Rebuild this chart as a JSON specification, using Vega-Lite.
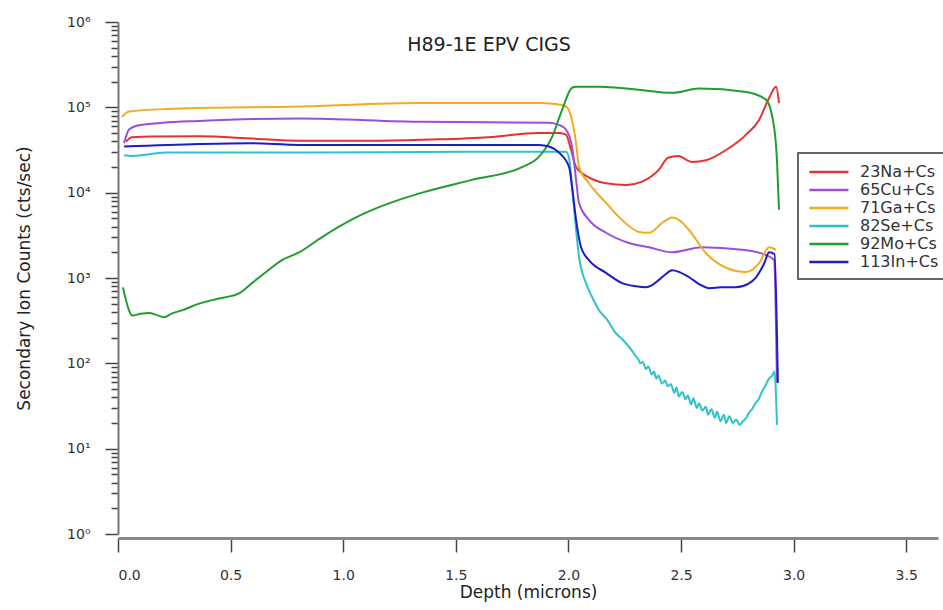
{
  "$schema": "https://vega.github.io/schema/vega-lite/v6.json",
  "autosize": "none",
  "width": 820,
  "height": 512,
  "padding": {"left": 118, "top": 22, "right": 5, "bottom": 76},
  "background": "white",
  "title": {
    "text": "H89-1E EPV CIGS",
    "anchor": "middle",
    "dx": -39,
    "offset": -55,
    "baseline": "alphabetic",
    "font": "DejaVu Sans",
    "fontSize": 19,
    "fontWeight": "normal",
    "color": "#222"
  },
  "config": {
    "view": {"stroke": null},
    "axis": {
      "labelFont": "DejaVu Sans",
      "titleFont": "DejaVu Sans",
      "labelColor": "#333",
      "titleColor": "#222",
      "grid": false
    }
  },
  "datasets": {
    "profiles": [
      {"s": "23Na+Cs", "x": 0.036, "y": 39800}, {"s": "23Na+Cs", "x": 0.062, "y": 44700}, {"s": "23Na+Cs", "x": 0.15, "y": 45500}, {"s": "23Na+Cs", "x": 0.36, "y": 45700}, {"s": "23Na+Cs", "x": 0.6, "y": 43000}, {"s": "23Na+Cs", "x": 0.804, "y": 40700}, {"s": "23Na+Cs", "x": 1.159, "y": 40700}, {"s": "23Na+Cs", "x": 1.4, "y": 42000}, {"s": "23Na+Cs", "x": 1.647, "y": 44700}, {"s": "23Na+Cs", "x": 1.869, "y": 50100}, {"s": "23Na+Cs", "x": 1.96, "y": 50100}, {"s": "23Na+Cs", "x": 1.989, "y": 47900}, {"s": "23Na+Cs", "x": 2.012, "y": 31600}, {"s": "23Na+Cs", "x": 2.034, "y": 20000}, {"s": "23Na+Cs", "x": 2.091, "y": 15100}, {"s": "23Na+Cs", "x": 2.167, "y": 12900}, {"s": "23Na+Cs", "x": 2.256, "y": 12300}, {"s": "23Na+Cs", "x": 2.327, "y": 13500}, {"s": "23Na+Cs", "x": 2.402, "y": 18600}, {"s": "23Na+Cs", "x": 2.442, "y": 25700}, {"s": "23Na+Cs", "x": 2.487, "y": 26900}, {"s": "23Na+Cs", "x": 2.549, "y": 22900}, {"s": "23Na+Cs", "x": 2.611, "y": 24000}, {"s": "23Na+Cs", "x": 2.7, "y": 31600}, {"s": "23Na+Cs", "x": 2.789, "y": 47900}, {"s": "23Na+Cs", "x": 2.846, "y": 70800}, {"s": "23Na+Cs", "x": 2.891, "y": 128800}, {"s": "23Na+Cs", "x": 2.922, "y": 173800}, {"s": "23Na+Cs", "x": 2.935, "y": 112200},

      {"s": "65Cu+Cs", "x": 0.027, "y": 38000}, {"s": "65Cu+Cs", "x": 0.049, "y": 55000}, {"s": "65Cu+Cs", "x": 0.093, "y": 61700}, {"s": "65Cu+Cs", "x": 0.2, "y": 66000}, {"s": "65Cu+Cs", "x": 0.36, "y": 69200}, {"s": "65Cu+Cs", "x": 0.804, "y": 74100}, {"s": "65Cu+Cs", "x": 1.35, "y": 67600}, {"s": "65Cu+Cs", "x": 1.914, "y": 66100}, {"s": "65Cu+Cs", "x": 1.96, "y": 62000}, {"s": "65Cu+Cs", "x": 1.989, "y": 55000}, {"s": "65Cu+Cs", "x": 2.016, "y": 34700}, {"s": "65Cu+Cs", "x": 2.034, "y": 14100}, {"s": "65Cu+Cs", "x": 2.047, "y": 7590}, {"s": "65Cu+Cs", "x": 2.091, "y": 4790}, {"s": "65Cu+Cs", "x": 2.167, "y": 3390}, {"s": "65Cu+Cs", "x": 2.269, "y": 2570}, {"s": "65Cu+Cs", "x": 2.358, "y": 2290}, {"s": "65Cu+Cs", "x": 2.46, "y": 2000}, {"s": "65Cu+Cs", "x": 2.593, "y": 2290}, {"s": "65Cu+Cs", "x": 2.771, "y": 2140}, {"s": "65Cu+Cs", "x": 2.877, "y": 1860}, {"s": "65Cu+Cs", "x": 2.913, "y": 1620}, {"s": "65Cu+Cs", "x": 2.926, "y": 59},

      {"s": "71Ga+Cs", "x": 0.018, "y": 77600}, {"s": "71Ga+Cs", "x": 0.049, "y": 89100}, {"s": "71Ga+Cs", "x": 0.213, "y": 95500}, {"s": "71Ga+Cs", "x": 0.804, "y": 102300}, {"s": "71Ga+Cs", "x": 1.35, "y": 112200}, {"s": "71Ga+Cs", "x": 1.869, "y": 112200}, {"s": "71Ga+Cs", "x": 1.93, "y": 110000}, {"s": "71Ga+Cs", "x": 1.989, "y": 102300}, {"s": "71Ga+Cs", "x": 2.016, "y": 70800}, {"s": "71Ga+Cs", "x": 2.034, "y": 38000}, {"s": "71Ga+Cs", "x": 2.047, "y": 20000}, {"s": "71Ga+Cs", "x": 2.091, "y": 12900}, {"s": "71Ga+Cs", "x": 2.167, "y": 7590}, {"s": "71Ga+Cs", "x": 2.238, "y": 4790}, {"s": "71Ga+Cs", "x": 2.313, "y": 3470}, {"s": "71Ga+Cs", "x": 2.358, "y": 3390}, {"s": "71Ga+Cs", "x": 2.42, "y": 4500}, {"s": "71Ga+Cs", "x": 2.46, "y": 5130}, {"s": "71Ga+Cs", "x": 2.5, "y": 4600}, {"s": "71Ga+Cs", "x": 2.536, "y": 3630}, {"s": "71Ga+Cs", "x": 2.611, "y": 1950}, {"s": "71Ga+Cs", "x": 2.7, "y": 1320}, {"s": "71Ga+Cs", "x": 2.789, "y": 1175}, {"s": "71Ga+Cs", "x": 2.846, "y": 1480}, {"s": "71Ga+Cs", "x": 2.891, "y": 2290}, {"s": "71Ga+Cs", "x": 2.922, "y": 2140},

      {"s": "82Se+Cs", "x": 0.027, "y": 27500}, {"s": "82Se+Cs", "x": 0.062, "y": 26900}, {"s": "82Se+Cs", "x": 0.213, "y": 29500}, {"s": "82Se+Cs", "x": 0.804, "y": 29500}, {"s": "82Se+Cs", "x": 1.572, "y": 30200}, {"s": "82Se+Cs", "x": 1.914, "y": 30200}, {"s": "82Se+Cs", "x": 1.989, "y": 30200}, {"s": "82Se+Cs", "x": 2.003, "y": 25100}, {"s": "82Se+Cs", "x": 2.016, "y": 12000}, {"s": "82Se+Cs", "x": 2.034, "y": 3630}, {"s": "82Se+Cs", "x": 2.047, "y": 1780}, {"s": "82Se+Cs", "x": 2.078, "y": 870}, {"s": "82Se+Cs", "x": 2.105, "y": 600}, {"s": "82Se+Cs", "x": 2.136, "y": 417}, {"s": "82Se+Cs", "x": 2.17, "y": 330}, {"s": "82Se+Cs", "x": 2.211, "y": 224}, {"s": "82Se+Cs", "x": 2.24, "y": 190}, {"s": "82Se+Cs", "x": 2.282, "y": 141}, {"s": "82Se+Cs", "x": 2.3, "y": 120}, {"s": "82Se+Cs", "x": 2.31, "y": 112}, {"s": "82Se+Cs", "x": 2.32, "y": 100}, {"s": "82Se+Cs", "x": 2.33, "y": 104}, {"s": "82Se+Cs", "x": 2.344, "y": 86}, {"s": "82Se+Cs", "x": 2.355, "y": 92}, {"s": "82Se+Cs", "x": 2.37, "y": 74}, {"s": "82Se+Cs", "x": 2.38, "y": 80}, {"s": "82Se+Cs", "x": 2.39, "y": 66}, {"s": "82Se+Cs", "x": 2.4, "y": 72}, {"s": "82Se+Cs", "x": 2.415, "y": 58}, {"s": "82Se+Cs", "x": 2.43, "y": 63}, {"s": "82Se+Cs", "x": 2.44, "y": 54}, {"s": "82Se+Cs", "x": 2.455, "y": 57}, {"s": "82Se+Cs", "x": 2.47, "y": 45}, {"s": "82Se+Cs", "x": 2.48, "y": 52}, {"s": "82Se+Cs", "x": 2.49, "y": 41}, {"s": "82Se+Cs", "x": 2.505, "y": 46}, {"s": "82Se+Cs", "x": 2.52, "y": 38}, {"s": "82Se+Cs", "x": 2.53, "y": 42}, {"s": "82Se+Cs", "x": 2.545, "y": 33}, {"s": "82Se+Cs", "x": 2.555, "y": 39}, {"s": "82Se+Cs", "x": 2.57, "y": 30}, {"s": "82Se+Cs", "x": 2.58, "y": 34}, {"s": "82Se+Cs", "x": 2.595, "y": 28}, {"s": "82Se+Cs", "x": 2.61, "y": 31}, {"s": "82Se+Cs", "x": 2.62, "y": 25}, {"s": "82Se+Cs", "x": 2.635, "y": 29}, {"s": "82Se+Cs", "x": 2.65, "y": 23}, {"s": "82Se+Cs", "x": 2.66, "y": 27}, {"s": "82Se+Cs", "x": 2.675, "y": 21}, {"s": "82Se+Cs", "x": 2.69, "y": 25}, {"s": "82Se+Cs", "x": 2.7, "y": 20}, {"s": "82Se+Cs", "x": 2.715, "y": 24}, {"s": "82Se+Cs", "x": 2.73, "y": 20}, {"s": "82Se+Cs", "x": 2.745, "y": 22}, {"s": "82Se+Cs", "x": 2.76, "y": 19}, {"s": "82Se+Cs", "x": 2.775, "y": 21}, {"s": "82Se+Cs", "x": 2.79, "y": 23}, {"s": "82Se+Cs", "x": 2.8, "y": 26}, {"s": "82Se+Cs", "x": 2.815, "y": 29}, {"s": "82Se+Cs", "x": 2.83, "y": 34}, {"s": "82Se+Cs", "x": 2.845, "y": 38}, {"s": "82Se+Cs", "x": 2.86, "y": 47}, {"s": "82Se+Cs", "x": 2.875, "y": 55}, {"s": "82Se+Cs", "x": 2.89, "y": 66}, {"s": "82Se+Cs", "x": 2.905, "y": 72}, {"s": "82Se+Cs", "x": 2.915, "y": 80}, {"s": "82Se+Cs", "x": 2.926, "y": 19},

      {"s": "92Mo+Cs", "x": 0.022, "y": 776}, {"s": "92Mo+Cs", "x": 0.049, "y": 417}, {"s": "92Mo+Cs", "x": 0.062, "y": 363}, {"s": "92Mo+Cs", "x": 0.1, "y": 380}, {"s": "92Mo+Cs", "x": 0.138, "y": 389}, {"s": "92Mo+Cs", "x": 0.17, "y": 370}, {"s": "92Mo+Cs", "x": 0.204, "y": 347}, {"s": "92Mo+Cs", "x": 0.24, "y": 385}, {"s": "92Mo+Cs", "x": 0.284, "y": 417}, {"s": "92Mo+Cs", "x": 0.36, "y": 501}, {"s": "92Mo+Cs", "x": 0.448, "y": 575}, {"s": "92Mo+Cs", "x": 0.537, "y": 661}, {"s": "92Mo+Cs", "x": 0.595, "y": 871}, {"s": "92Mo+Cs", "x": 0.657, "y": 1175}, {"s": "92Mo+Cs", "x": 0.728, "y": 1622}, {"s": "92Mo+Cs", "x": 0.804, "y": 1995}, {"s": "92Mo+Cs", "x": 0.906, "y": 3020}, {"s": "92Mo+Cs", "x": 1.057, "y": 5130}, {"s": "92Mo+Cs", "x": 1.159, "y": 6760}, {"s": "92Mo+Cs", "x": 1.35, "y": 10000}, {"s": "92Mo+Cs", "x": 1.572, "y": 14130}, {"s": "92Mo+Cs", "x": 1.794, "y": 19950}, {"s": "92Mo+Cs", "x": 1.869, "y": 26300}, {"s": "92Mo+Cs", "x": 1.927, "y": 44670}, {"s": "92Mo+Cs", "x": 1.972, "y": 93300}, {"s": "92Mo+Cs", "x": 2.016, "y": 169800}, {"s": "92Mo+Cs", "x": 2.034, "y": 173800}, {"s": "92Mo+Cs", "x": 2.136, "y": 173800}, {"s": "92Mo+Cs", "x": 2.3, "y": 162000}, {"s": "92Mo+Cs", "x": 2.46, "y": 147900}, {"s": "92Mo+Cs", "x": 2.58, "y": 166000}, {"s": "92Mo+Cs", "x": 2.789, "y": 151400}, {"s": "92Mo+Cs", "x": 2.877, "y": 123000}, {"s": "92Mo+Cs", "x": 2.913, "y": 58900}, {"s": "92Mo+Cs", "x": 2.926, "y": 24000}, {"s": "92Mo+Cs", "x": 2.935, "y": 6310},

      {"s": "113In+Cs", "x": 0.027, "y": 34700}, {"s": "113In+Cs", "x": 0.36, "y": 37200}, {"s": "113In+Cs", "x": 0.581, "y": 38000}, {"s": "113In+Cs", "x": 0.804, "y": 36300}, {"s": "113In+Cs", "x": 1.869, "y": 36300}, {"s": "113In+Cs", "x": 1.914, "y": 34700}, {"s": "113In+Cs", "x": 1.958, "y": 29500}, {"s": "113In+Cs", "x": 2.003, "y": 20000}, {"s": "113In+Cs", "x": 2.016, "y": 11700}, {"s": "113In+Cs", "x": 2.034, "y": 4790}, {"s": "113In+Cs", "x": 2.056, "y": 2290}, {"s": "113In+Cs", "x": 2.091, "y": 1620}, {"s": "113In+Cs", "x": 2.167, "y": 1150}, {"s": "113In+Cs", "x": 2.238, "y": 870}, {"s": "113In+Cs", "x": 2.3, "y": 800}, {"s": "113In+Cs", "x": 2.344, "y": 780}, {"s": "113In+Cs", "x": 2.37, "y": 820}, {"s": "113In+Cs", "x": 2.402, "y": 950}, {"s": "113In+Cs", "x": 2.43, "y": 1100}, {"s": "113In+Cs", "x": 2.46, "y": 1230}, {"s": "113In+Cs", "x": 2.49, "y": 1180}, {"s": "113In+Cs", "x": 2.536, "y": 1020}, {"s": "113In+Cs", "x": 2.58, "y": 850}, {"s": "113In+Cs", "x": 2.625, "y": 760}, {"s": "113In+Cs", "x": 2.68, "y": 780}, {"s": "113In+Cs", "x": 2.744, "y": 780}, {"s": "113In+Cs", "x": 2.8, "y": 860}, {"s": "113In+Cs", "x": 2.833, "y": 1020}, {"s": "113In+Cs", "x": 2.87, "y": 1500}, {"s": "113In+Cs", "x": 2.891, "y": 2000}, {"s": "113In+Cs", "x": 2.915, "y": 1900}, {"s": "113In+Cs", "x": 2.93, "y": 59}
    ]
  },
  "data": {"name": "profiles"},
  "mark": {"type": "line", "strokeWidth": 2, "interpolate": "monotone"},
  "encoding": {
    "x": {
      "field": "x",
      "type": "quantitative",
      "scale": {"domain": [0, 3.641], "nice": false, "zero": false},
      "axis": {
        "title": "Depth (microns)",
        "values": [0, 0.5, 1, 1.5, 2, 2.5, 3, 3.5],
        "format": ".1f",
        "offset": 4,
        "domainColor": "#888",
        "domainWidth": 3,
        "tickColor": "#444",
        "tickWidth": 1.5,
        "tickSize": 14,
        "labelFontSize": 14,
        "labelPadding": 16,
        "titleFontSize": 17,
        "titleFontWeight": "normal",
        "titlePadding": 2
      }
    },
    "y": {
      "field": "y",
      "type": "quantitative",
      "scale": {"type": "log", "domain": [1, 1000000], "nice": false},
      "axis": {
        "title": "Secondary Ion Counts (cts/sec)",
        "values": [1, 2, 3, 4, 5, 6, 7, 8, 9, 10, 20, 30, 40, 50, 60, 70, 80, 90, 100, 200, 300, 400, 500, 600, 700, 800, 900, 1000, 2000, 3000, 4000, 5000, 6000, 7000, 8000, 9000, 10000, 20000, 30000, 40000, 50000, 60000, 70000, 80000, 90000, 100000, 200000, 300000, 400000, 500000, 600000, 700000, 800000, 900000, 1000000],
        "labelExpr": "datum.value == 1 ? '10⁰' : datum.value == 10 ? '10¹' : datum.value == 100 ? '10²' : datum.value == 1000 ? '10³' : datum.value == 10000 ? '10⁴' : datum.value == 100000 ? '10⁵' : datum.value == 1000000 ? '10⁶' : ''",
        "domainColor": "#777",
        "domainWidth": 2,
        "tickColor": "#444",
        "tickWidth": 1.5,
        "tickSize": {"condition": {"test": "indexof([1,10,100,1000,10000,100000,1000000], datum.value) >= 0", "value": 13}, "value": 7},
        "labelFontSize": 14,
        "labelPadding": 15,
        "labelBound": false,
        "labelOverlap": false,
        "titleFontSize": 17,
        "titleFontWeight": "normal",
        "titlePadding": 33
      }
    },
    "color": {
      "field": "s",
      "type": "nominal",
      "scale": {
        "domain": ["23Na+Cs", "65Cu+Cs", "71Ga+Cs", "82Se+Cs", "92Mo+Cs", "113In+Cs"],
        "range": ["#e8312f", "#9a4edb", "#f2aa22", "#2cc4c8", "#1f9e2f", "#1c1cc8"]
      },
      "legend": {
        "title": null,
        "orient": "none",
        "legendX": 680,
        "legendY": 131,
        "fillColor": "white",
        "strokeColor": "#666",
        "padding": 9,
        "symbolType": "M-0.9,0H3.7",
        "symbolSize": 289,
        "symbolStrokeWidth": 2.5,
        "labelFont": "DejaVu Sans",
        "labelFontSize": 16,
        "labelColor": "#333",
        "labelOffset": 33,
        "rowPadding": 0,
        "encode": {"legend": {"update": {"strokeWidth": {"value": 2}}}}
      }
    }
  }
}
